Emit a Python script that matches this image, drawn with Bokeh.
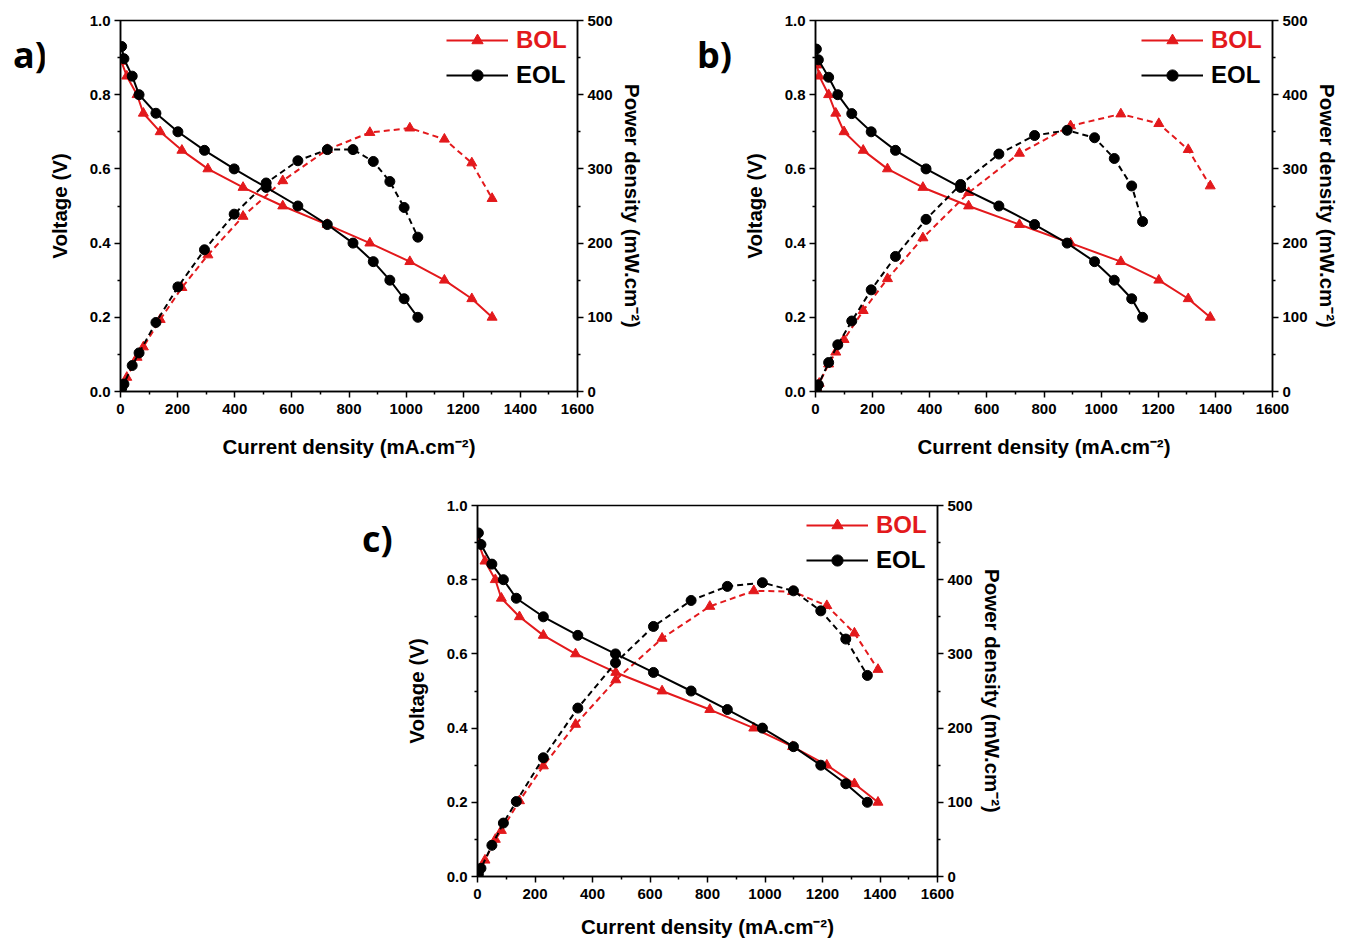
from bokeh.plotting import figure
from bokeh.models import (Range1d, LinearAxis, Legend, LegendItem, Spacer, Div,
                          FixedTicker, PrintfTickFormatter)
from bokeh.layouts import row, column
from bokeh.embed import file_html
from bokeh.resources import INLINE

RED = "#e3191c"
BLACK = "#000000"
FONT = "Liberation Sans"

# ---------------- data ----------------
# panel a
a_bol_j = [3, 22, 58, 80, 139, 215, 306, 429, 568, 724, 873, 1013, 1134, 1230, 1301]
a_bol_v = [0.89, 0.85, 0.80, 0.75, 0.70, 0.65, 0.60, 0.55, 0.50, 0.45, 0.40, 0.35, 0.30, 0.25, 0.20]
a_bol_p = [3, 19, 46, 60, 97, 140, 184, 236, 284, 326, 349, 355, 340, 308, 260]
a_eol_j = [4, 12, 41, 65, 124, 201, 294, 398, 510, 621, 724, 814, 885, 943, 993, 1041]
a_eol_v = [0.93, 0.897, 0.85, 0.80, 0.75, 0.70, 0.65, 0.60, 0.55, 0.50, 0.45, 0.40, 0.35, 0.30, 0.25, 0.20]
a_eol_p = [4, 10, 35, 52, 93, 141, 191, 239, 281, 311, 326, 326, 310, 283, 248, 208]

# panel b
b_bol_j = [5, 13, 46, 71, 100, 167, 252, 376, 536, 714, 893, 1069, 1202, 1305, 1382]
b_bol_v = [0.88, 0.85, 0.80, 0.75, 0.70, 0.65, 0.60, 0.55, 0.50, 0.45, 0.40, 0.35, 0.30, 0.25, 0.20]
b_bol_p = [4, 11, 37, 53, 70, 109, 152, 207, 268, 321, 358, 374, 361, 326, 277]
b_eol_j = [3, 10, 46, 78, 127, 195, 280, 387, 508, 642, 767, 881, 977, 1046, 1107, 1145]
b_eol_v = [0.923, 0.894, 0.847, 0.80, 0.749, 0.70, 0.65, 0.60, 0.55, 0.50, 0.45, 0.40, 0.35, 0.30, 0.25, 0.20]
b_eol_p = [3, 9, 39, 63, 95, 137, 182, 232, 279, 320, 345, 352, 342, 314, 277, 229]

# panel c
c_bol_j = [3, 26, 62, 83, 146, 229, 341, 481, 642, 808, 961, 1096, 1215, 1311, 1393]
c_bol_v = [0.90, 0.85, 0.80, 0.75, 0.70, 0.65, 0.60, 0.55, 0.50, 0.45, 0.40, 0.35, 0.30, 0.25, 0.20]
c_bol_p = [3, 22, 50, 62, 102, 149, 205, 265, 321, 364, 385, 384, 365, 328, 279]
c_eol_j = [3, 12, 50, 90, 135, 229, 349, 480, 612, 743, 869, 991, 1099, 1194, 1281, 1356]
c_eol_v = [0.926, 0.895, 0.842, 0.80, 0.75, 0.70, 0.65, 0.60, 0.55, 0.50, 0.45, 0.40, 0.35, 0.30, 0.25, 0.20]
c_eol_p = [3, 11, 42, 72, 101, 160, 227, 288, 337, 372, 391, 396, 385, 358, 320, 271]

x_ticks = [0, 200, 400, 600, 800, 1000, 1200, 1400, 1600]
v_ticks = [0.0, 0.2, 0.4, 0.6, 0.8, 1.0]
p_ticks = [0, 100, 200, 300, 400, 500]

series_labels = ["BOL", "EOL"]
panel_letters = ["a)", "b)", "c)"]
x_title = "Current density (mA.cm\u207b\u00b2)"
v_title = "Voltage (V)"
p_title = "Power density (mW.cm\u207b\u00b2)"


def style_axis(ax, ticks, minor, label):
    ax.ticker = FixedTicker(ticks=ticks, minor_ticks=minor)
    ax.axis_label = label
    ax.axis_label_text_font = FONT
    ax.axis_label_text_font_style = "bold"
    ax.axis_label_text_font_size = "20.5px"
    ax.axis_label_text_color = BLACK
    ax.major_label_text_font = FONT
    ax.major_label_text_font_style = "bold"
    ax.major_label_text_font_size = "15px"
    ax.major_label_text_color = BLACK
    ax.axis_line_color = BLACK
    ax.axis_line_width = 1.5
    ax.major_tick_line_color = BLACK
    ax.major_tick_line_width = 1.5
    ax.minor_tick_line_color = BLACK
    ax.minor_tick_line_width = 1.5
    ax.major_tick_in = 0
    ax.major_tick_out = 6
    ax.minor_tick_in = 0
    ax.minor_tick_out = 3
    ax.major_label_standoff = 4


def make_panel(bj, bv, bp, ej, ev, ep, bl, br, bt, bb, fw, xlab_standoff):
    p = figure(frame_width=fw, frame_height=371, output_backend="svg",
               toolbar_location=None, x_range=Range1d(0, 1600), y_range=Range1d(0, 1.0),
               min_border_left=bl, min_border_right=br, min_border_top=bt,
               min_border_bottom=bb)
    p.extra_y_ranges = {"power": Range1d(0, 500)}
    p.xgrid.visible = False
    p.ygrid.visible = False
    p.outline_line_color = BLACK
    p.outline_line_width = 1.5
    p.background_fill_color = "white"
    p.border_fill_color = "white"

    style_axis(p.xaxis[0], x_ticks, [100, 300, 500, 700, 900, 1100, 1300, 1500], x_title)
    style_axis(p.yaxis[0], v_ticks, [0.1, 0.3, 0.5, 0.7, 0.9], v_title)
    p.xaxis[0].major_label_standoff = 6
    p.xaxis[0].axis_label_standoff = xlab_standoff
    p.yaxis[0].axis_label_standoff = 16
    p.yaxis[0].formatter = PrintfTickFormatter(format="%.1f")

    right = LinearAxis(y_range_name="power")
    style_axis(right, p_ticks, [50, 150, 250, 350, 450], p_title)
    right.axis_label_standoff = 5
    p.add_layout(right, "right")

    # BOL (red, triangles)
    lb = p.line(bj, bv, line_color=RED, line_width=2)
    sb = p.scatter(bj, bv, marker="triangle", size=10, fill_color=RED, line_color=RED)
    p.line(bj, bp, y_range_name="power", line_color=RED, line_width=2, line_dash="6 4")
    p.scatter(bj, bp, y_range_name="power", marker="triangle", size=10,
              fill_color=RED, line_color=RED)
    # EOL (black, circles)
    le = p.line(ej, ev, line_color=BLACK, line_width=2)
    se = p.scatter(ej, ev, marker="circle", size=10, fill_color=BLACK, line_color=BLACK)
    p.line(ej, ep, y_range_name="power", line_color=BLACK, line_width=2, line_dash="6 4")
    p.scatter(ej, ep, y_range_name="power", marker="circle", size=10,
              fill_color=BLACK, line_color=BLACK)

    for name, rends, color, vy in [(series_labels[0], [lb, sb], RED, 337),
                                    (series_labels[1], [le, se], BLACK, 302)]:
        leg = Legend(items=[LegendItem(label=name, renderers=rends)],
                     location=(fw - 131, vy), padding=0, spacing=0, margin=0,
                     glyph_width=62, glyph_height=28, label_height=28,
                     label_standoff=8, background_fill_alpha=0, border_line_alpha=0,
                     label_text_font=FONT, label_text_font_style="bold",
                     label_text_font_size="24px", label_text_color=color)
        p.add_layout(leg)
    return p


def letter_div(text, width, height, pad_left, pad_top):
    html = ('<div style="font-family:\'Open Sans\';font-weight:bold;font-size:36px;'
            'line-height:36px;color:#000;padding-left:%dpx;padding-top:%dpx;'
            'white-space:nowrap;overflow:visible;">%s</div>' % (pad_left, pad_top, text))
    return Div(text=html, width=width, height=height, margin=0)


pa = make_panel(a_bol_j, a_bol_v, a_bol_p, a_eol_j, a_eol_v, a_eol_p,
                76, 100, 20, 84, 457, 18)
pb = make_panel(b_bol_j, b_bol_v, b_bol_p, b_eol_j, b_eol_v, b_eol_p,
                78, 66, 20, 84, 457, 18)
pc = make_panel(c_bol_j, c_bol_v, c_bol_p, c_eol_j, c_eol_v, c_eol_p,
                77, 80, 30, 60, 460, 13)

da = letter_div(panel_letters[0], 44, 120, 13, 37)
db = letter_div(panel_letters[1], 60, 120, 20, 37)
dc = letter_div(panel_letters[2], 50, 120, 12, 46)

layout = column(row(da, pa, db, pb),
                row(Spacer(width=350, height=10), dc, pc))

open("out.html", "w").write(file_html(layout, INLINE))
